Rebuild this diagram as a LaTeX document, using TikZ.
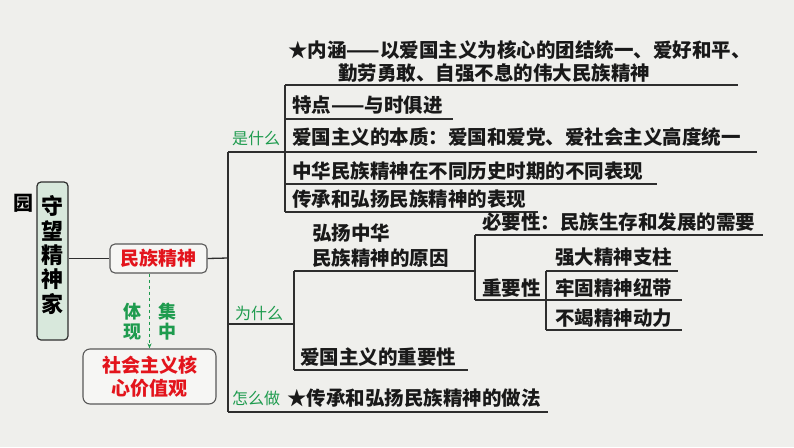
\documentclass[tikz,border=0pt]{standalone}
\usepackage{fontspec}
\setmainfont{Noto Sans CJK SC}
\usetikzlibrary{arrows.meta}
\definecolor{bg}{HTML}{EFEFEC}
\definecolor{lc}{HTML}{2E2E2E}
\definecolor{grn}{HTML}{1E9B4E}
\definecolor{rd}{HTML}{E3141C}
\definecolor{mint}{HTML}{D8E8DC}
\definecolor{boxbg}{HTML}{F6F6F4}
\tikzset{
  txt/.style={anchor=west, inner sep=0pt, text=black!90, font=\fontsize{19.5}{24}\selectfont\bfseries},
  gtxt/.style={anchor=west, inner sep=0pt, text=grn, font=\fontsize{16}{20}\selectfont},
  ln/.style={draw=lc, line width=1.3pt},
  rbox/.style={draw=lc!80, line width=1.1pt, fill=boxbg, rounded corners=5pt, text=rd, align=center, inner sep=0pt, font=\fontsize{19}{23}\selectfont\bfseries}
}
\begin{document}
\begin{tikzpicture}[x=1pt,y=-1pt]
\fill[bg] (0,0) rectangle (794,447);
\useasboundingbox (0,0) rectangle (794,447);

% left part
\node[inner sep=0pt, font=\fontsize{20}{24}\selectfont\bfseries] (yuan) at (23,203) {园};
\node[draw=lc, line width=1.2pt, fill=mint, rounded corners=4pt, minimum width=31pt, minimum height=158pt, inner sep=0pt] (home) at (52.5,261) {};
\node[align=center, inner sep=0pt, font=\fontsize{22}{24.3}\selectfont\bfseries] (hometxt) at (52.5,255) {守\\望\\精\\神\\家};
\node[rbox, minimum width=97pt, minimum height=29pt] (mz) at (158.5,258.5) {民族精神};
\node[rbox, minimum width=133pt, minimum height=55pt, rounded corners=7pt] (hx) at (149.5,376.5) {社会主义核\\心价值观};
\node[inner sep=0pt, align=center, text=grn, font=\fontsize{18}{20}\selectfont\bfseries] (tx) at (132,322) {体\\现};
\node[inner sep=0pt, align=center, text=grn, font=\fontsize{18}{20}\selectfont\bfseries] (jz) at (167,322) {集\\中};
\draw[grn, line width=1pt, dashed, -{Stealth[length=5pt,width=4pt]}] (hx.north |- mz.south) -- (hx.north);

% coordinates
\coordinate (s1) at (228,152);
\coordinate (s2) at (228,258);
\coordinate (s3) at (228,324);
\coordinate (s4) at (228,412);
\draw[ln] (home.east |- mz.west) -- (mz.west);
\draw[ln] (mz.east) -- (s2);
\draw[ln] (s1) -- (s4);

% 是什么
\node[gtxt] (what) at (232,138) {是什么};
\coordinate (b1t) at (285,85);
\coordinate (b1b) at (285,212);
\draw[ln] (s1) -- (757,152);
\draw[ln] (b1t) -- (b1b);
\draw[ln] (b1t) -- (738,85);
\draw[ln] (285,119) -- (453,119);
\draw[ln] (285,184) -- (657,184);
\draw[ln] (b1b) -- (538,212);
\node[txt] (nh1) at (288,50) {★内涵——以爱国主义为核心的团结统一、爱好和平、};
\node[txt] (nh2) at (338,73) {勤劳勇敢、自强不息的伟大民族精神};
\node[txt] (td) at (292,105) {特点——与时俱进};
\node[txt] (bz) at (292,137) {爱国主义的本质：爱国和爱党、爱社会主义高度统一};
\node[txt] (bt) at (292,171) {中华民族精神在不同历史时期的不同表现};
\node[txt] (bx) at (292,199) {传承和弘扬民族精神的表现};

% 为什么
\node[gtxt] (why) at (235,313) {为什么};
\coordinate (b2t) at (294,271);
\coordinate (b2b) at (294,370);
\draw[ln] (s3) -- (294,324);
\draw[ln] (b2t) -- (b2b);
\draw[ln] (b2t) -- (475,271);
\draw[ln] (b2b) -- (468,370);
\node[txt] (yy1) at (312,233) {弘扬中华};
\node[txt] (yy2) at (312,258) {民族精神的原因};
\node[txt] (zyx0) at (300,357) {爱国主义的重要性};

\coordinate (b3t) at (475,235);
\coordinate (b3b) at (475,300);
\draw[ln] (b3t) -- (b3b);
\draw[ln] (b3t) -- (763,235);
\draw[ln] (b3b) -- (546,300);
\node[txt] (byx) at (482,222) {必要性：民族生存和发展的需要};
\node[txt] (zyx) at (482,288) {重要性};

\coordinate (b4t) at (546,271);
\coordinate (b4b) at (546,330);
\draw[ln] (b4t) -- (b4b);
\draw[ln] (b4t) -- (678,271);
\draw[ln] (546,300) -- (682,300);
\draw[ln] (b4b) -- (682,330);
\node[txt] (zz1) at (555,257) {强大精神支柱};
\node[txt] (zz2) at (555,288) {牢固精神纽带};
\node[txt] (zz3) at (555,318) {不竭精神动力};

% 怎么做
\node[gtxt] (how) at (232,398) {怎么做};
\draw[ln] (s4) -- (548,412);
\node[txt] (zf) at (287,398) {★传承和弘扬民族精神的做法};
\end{tikzpicture}
\end{document}
